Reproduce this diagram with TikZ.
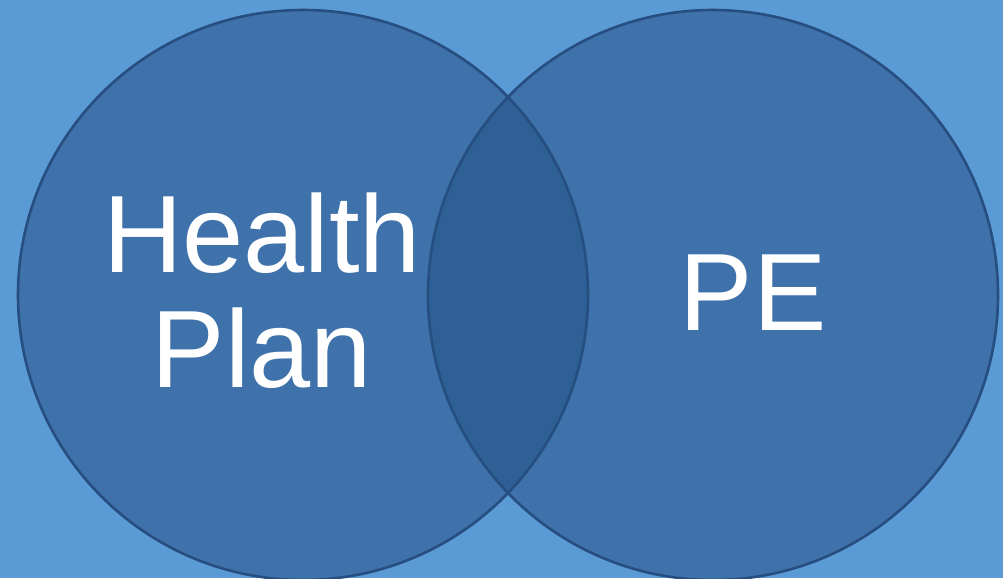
\documentclass[tikz,border=0pt]{standalone}
\usepackage{fontspec}
\setmainfont{Liberation Sans}
\definecolor{bgblue}{HTML}{5B9BD5}
\definecolor{setfill}{HTML}{3F72AB}
\definecolor{setboth}{HTML}{2E5F95}
\definecolor{setedge}{HTML}{264E80}
\begin{document}
\begin{tikzpicture}[x=1pt,y=-1pt,
  setcircle/.style={circle, minimum size=570pt, inner sep=0pt, fill=setfill},
  setedgeline/.style={draw=setedge, line width=2.6pt},
  setlabel/.style={text=white, align=center, font=\fontsize{110}{115}\selectfont}]
  % canvas
  \fill[bgblue] (0,0) rectangle (1003,578);
  \useasboundingbox (0,0) rectangle (1003,578);
  % the two sets
  \node[setcircle] (hp) at (303,295) {};
  \node[setcircle] (pe) at (713,295) {};
  % overlap
  \begin{scope}
    \clip (303,295) circle[radius=285];
    \fill[setboth] (713,295) circle[radius=285];
  \end{scope}
  % outlines
  \draw[setedgeline] (hp.center) circle[radius=285];
  \draw[setedgeline] (pe.center) circle[radius=285];
  % labels (base anchor sits on the last line)
  \node[setlabel, anchor=base] (hptext) at (262,387) {Health\\Plan};
  \node[setlabel, anchor=base] (petext) at (753,330) {PE};
\end{tikzpicture}
\end{document}
